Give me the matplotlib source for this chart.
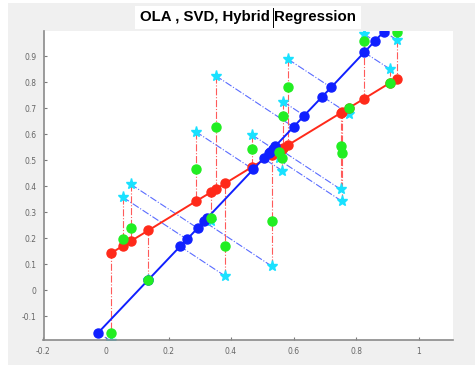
import matplotlib
matplotlib.use('Agg')
import matplotlib.pyplot as plt
from matplotlib.patches import Rectangle
from matplotlib.lines import Line2D

# data points (cyan stars)
star_x = [0.015, 0.054, 0.079, 0.135, 0.287, 0.337, 0.351, 0.381, 0.468, 0.530,
          0.554, 0.564, 0.567, 0.583, 0.751, 0.754, 0.778, 0.826, 0.909, 0.930]
star_y = [-0.195, 0.358, 0.408, 0.040, 0.610, 0.266, 0.825, 0.055, 0.597, 0.093,
          0.508, 0.460, 0.725, 0.888, 0.388, 0.343, 0.678, 0.985, 0.850, 0.963]

# OLA fit values (red)
red_y = [0.142, 0.171, 0.189, 0.230, 0.342, 0.378, 0.389, 0.411, 0.475, 0.520,
         0.538, 0.545, 0.547, 0.559, 0.682, 0.684, 0.702, 0.737, 0.798, 0.814]

# SVD orthogonal projections (blue)
blue_x = [-0.025, 0.259, 0.293, 0.135, 0.471, 0.323, 0.600, 0.237, 0.534, 0.313,
          0.524, 0.504, 0.634, 0.720, 0.541, 0.520, 0.692, 0.860, 0.826, 0.889]
blue_y = [-0.163, 0.196, 0.239, 0.040, 0.465, 0.277, 0.628, 0.169, 0.545, 0.265,
          0.532, 0.507, 0.672, 0.780, 0.554, 0.528, 0.745, 0.958, 0.915, 0.995]

# Hybrid values (green)
green_y = [-0.163, 0.196, 0.239, 0.040, 0.465, 0.277, 0.628, 0.169, 0.545, 0.265,
           0.532, 0.507, 0.672, 0.780, 0.554, 0.528, 0.702, 0.958, 0.798, 0.995]

xticks = [-0.2, 0, 0.2, 0.4, 0.6, 0.8, 1]
yticks = [-0.1, 0, 0.1, 0.2, 0.3, 0.4, 0.5, 0.6, 0.7, 0.8, 0.9]

fig = plt.figure(figsize=(4.75, 3.65), dpi=100)
fig.patch.set_facecolor('white')
fig.add_artist(Rectangle((8 / 475, 0), 1, 1 - 3 / 365, transform=fig.transFigure,
                         facecolor='#f0f0f0', edgecolor='none', zorder=-10))

ax = fig.add_axes([43.5 / 475, 25 / 365, 409.5 / 475, 309 / 365])
ax.set_facecolor('white')

# residual lines
for i in range(len(star_x)):
    ax.plot([star_x[i], star_x[i]], [star_y[i], red_y[i]], color='#ff5a5a',
            linestyle='-.', linewidth=0.8, zorder=1)
    ax.plot([star_x[i], blue_x[i]], [star_y[i], blue_y[i]], color='#5a6cff',
            linestyle='-.', linewidth=0.8, zorder=1)

ax.plot(star_x, star_y, linestyle='none', marker='*', color='#19e1ff',
        markersize=8, zorder=2)

# red fit line
order = sorted(range(len(star_x)), key=lambda k: star_x[k])
ax.plot([star_x[k] for k in order], [red_y[k] for k in order], color='#ff2a1a',
        linewidth=1.4, marker='o', markersize=6.5, zorder=3)

# blue fit line
order = sorted(range(len(blue_x)), key=lambda k: blue_x[k])
ax.plot([blue_x[k] for k in order], [blue_y[k] for k in order], color='#1020ff',
        linewidth=1.4, marker='o', markersize=6.5, zorder=4)

ax.plot(star_x, green_y, linestyle='none', marker='o', color='#22ee22',
        markersize=6.5, zorder=5)

ax.set_xlim(-0.2, 1.11)
ax.set_ylim(-0.191, 0.997)
ax.set_xticks(xticks)
ax.set_xticklabels(['-0.2', '0', '0.2', '0.4', '0.6', '0.8', '1'])
ax.set_yticks(yticks)
ax.set_yticklabels(['-0.1', '0', '0.1', '0.2', '0.3', '0.4', '0.5', '0.6', '0.7', '0.8', '0.9'])
ax.tick_params(direction='in', length=2.5, width=0.8, colors='#7a7a7a',
               labelsize=5.5, labelcolor='#666666', pad=5)
ax.spines['top'].set_visible(False)
ax.spines['right'].set_visible(False)
ax.spines['left'].set_color('#8a8a8a')
ax.spines['bottom'].set_color('#8a8a8a')
ax.spines['left'].set_linewidth(1.2)
ax.spines['bottom'].set_linewidth(1.2)

# title with white box and a text cursor after "Hybrid"
fig.text(248 / 475, 1 - 17.5 / 365, 'OLA , SVD, Hybrid Regression', ha='center', va='center',
         fontsize=10.8, fontweight='bold', family=['Liberation Sans', 'DejaVu Sans'],
         bbox=dict(facecolor='white', edgecolor='none', pad=3.5), zorder=5)
fig.add_artist(Line2D([272.5 / 475, 272.5 / 475], [1 - 27 / 365, 1 - 8 / 365],
                      transform=fig.transFigure, color='black', linewidth=0.7, zorder=10))

plt.savefig('out.png', dpi=100, facecolor=fig.get_facecolor())
